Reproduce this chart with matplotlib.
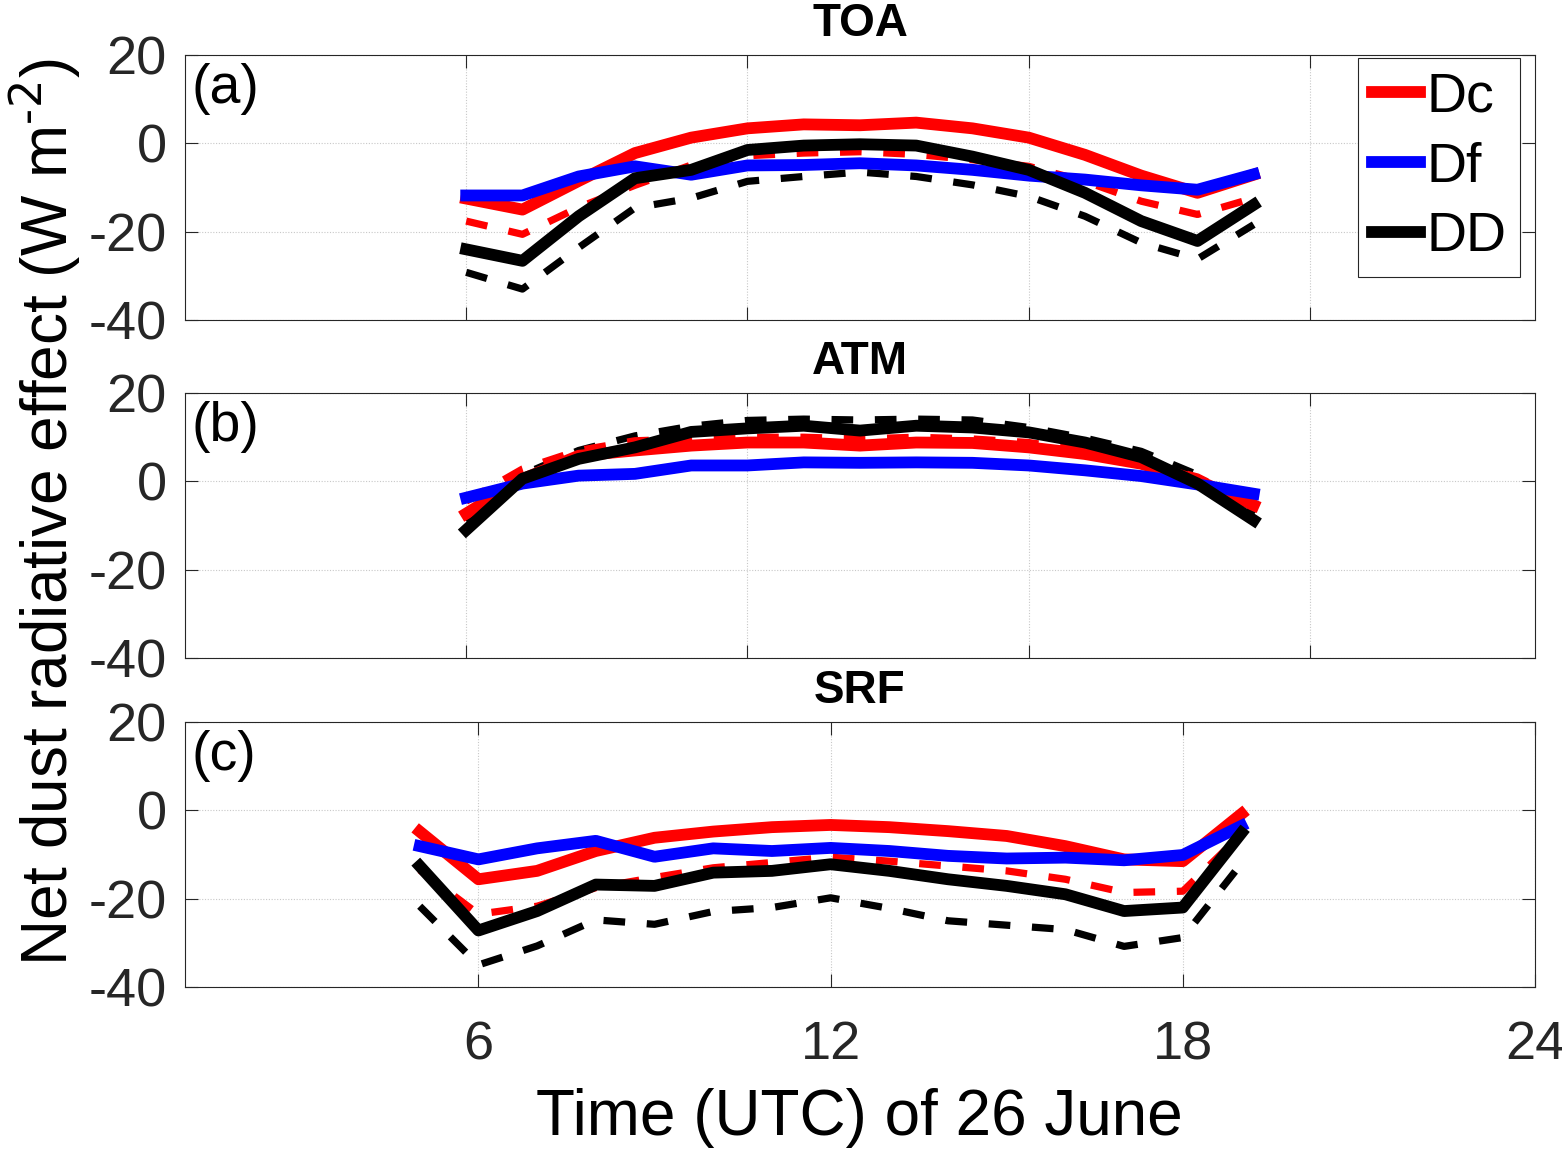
import matplotlib
matplotlib.use('Agg')
import matplotlib.pyplot as plt

plt.rcParams['font.family'] = ['Liberation Sans', 'DejaVu Sans']
plt.rcParams['axes.unicode_minus'] = False

# hours (UTC) of 26 June
hours = list(range(5, 20))

# TOA
dc_toa = [-12.5, -15.0, -8.5, -2.2, 1.3, 3.4, 4.3, 4.1, 4.7, 3.4, 1.3, -2.6, -7.3, -11.2, -7.1]
df_toa = [-11.8, -11.8, -7.5, -5.2, -7.1, -5.0, -4.9, -4.5, -5.0, -6.0, -7.3, -8.2, -9.5, -10.5, -7.0]
dd_toa = [-24.0, -26.6, -16.5, -7.9, -6.0, -1.5, -0.5, -0.2, -0.5, -3.0, -6.0, -11.2, -17.6, -22.1, -13.9]
dc_toa_dash = [-17.6, -20.6, -14.5, -9.5, -4.9, -2.8, -2.2, -1.9, -2.5, -3.7, -5.2, -8.6, -13.1, -16.1, -12.4]
dd_toa_dash = [-29.2, -33.0, -23.6, -14.6, -12.4, -8.6, -7.5, -6.5, -7.5, -9.4, -12.0, -16.5, -22.5, -26.2, -18.4]

# ATM
dc_atm = [-7.3, 0.5, 5.8, 7.0, 8.1, 8.8, 8.8, 8.1, 8.8, 8.7, 7.7, 6.2, 4.0, 0.2, -5.4]
df_atm = [-3.7, -0.5, 1.3, 1.7, 3.6, 3.6, 4.3, 4.2, 4.3, 4.2, 3.6, 2.5, 1.2, -0.7, -2.8]
dd_atm = [-11.0, 0.6, 5.1, 7.7, 11.2, 12.0, 12.6, 11.5, 12.6, 12.2, 11.1, 8.8, 5.5, -0.5, -8.8]
dc_atm_dash = [-4.5, 2.8, 7.0, 9.2, 9.6, 10.0, 10.0, 9.6, 10.0, 9.6, 8.8, 7.0, 4.3, 1.0, -5.4]
dd_atm_dash = [-9.0, 1.5, 7.0, 10.3, 12.5, 13.8, 14.1, 13.9, 14.1, 13.9, 12.2, 9.8, 6.8, 1.5, -7.6]

# SRF
dc_srf = [-4.8, -15.6, -13.7, -9.2, -6.2, -4.8, -3.8, -3.3, -3.8, -4.7, -5.8, -8.1, -11.1, -11.5, -0.8]
df_srf = [-8.1, -11.1, -8.6, -6.9, -10.5, -8.6, -9.2, -8.5, -9.2, -10.3, -10.9, -10.7, -11.3, -10.1, -3.5]
dd_srf = [-12.6, -27.2, -22.8, -16.8, -17.1, -14.1, -13.7, -12.2, -13.7, -15.6, -17.1, -19.0, -22.8, -22.0, -5.1]
dc_srf_dash = [-13.5, -23.5, -21.7, -17.5, -15.2, -13.0, -11.8, -10.6, -11.5, -12.6, -13.7, -15.6, -18.6, -18.3, -5.4]
dd_srf_dash = [-21.7, -35.0, -30.7, -24.8, -25.8, -22.9, -22.0, -19.8, -22.2, -25.0, -26.0, -27.0, -30.8, -28.8, -12.0]

titles = ['TOA', 'ATM', 'SRF']
panel_labels = ['(a)', '(b)', '(c)']
yticks = [-40, -20, 0, 20]

LW = 8.5       # solid lines
LW_D = 5.2     # dashed lines are drawn thinner
DASH = (3.0, 3.0)
TXT = '#262626'

fig = plt.figure(figsize=(15.62, 11.54), dpi=100)
left, width, height = 0.1184, 0.8643, 0.2296
bottoms = [0.7227, 0.4298, 0.1447]

panels = [
    (dc_toa, df_toa, dd_toa, dc_toa_dash, dd_toa_dash),
    (dc_atm, df_atm, dd_atm, dc_atm_dash, dd_atm_dash),
    (dc_srf, df_srf, dd_srf, dc_srf_dash, dd_srf_dash),
]

axes = []
for i, (dc, df, dd, dc_d, dd_d) in enumerate(panels):
    ax = fig.add_axes([left, bottoms[i], width, height])
    ax.plot(hours, dd_d, color='k', lw=LW_D, dashes=DASH)
    ax.plot(hours, dc_d, color='r', lw=LW_D, dashes=DASH)
    ax.plot(hours, dc, color='r', lw=LW, label='Dc')
    ax.plot(hours, df, color='b', lw=LW, label='Df')
    ax.plot(hours, dd, color='k', lw=LW, label='DD')

    ax.set_ylim(-40, 20)
    ax.set_yticks(yticks)
    if i < 2:
        ax.set_xlim(0, 24)
        ax.set_xticks([5, 10, 15, 20])
        ax.tick_params(axis='x', labelbottom=False)
    else:
        ax.set_xlim(1, 24)
        ax.set_xticks([6, 12, 18, 24])

    ax.grid(True, color='#c8c8c8', lw=0.8, ls=(0, (1, 1.5)))
    ax.set_axisbelow(True)
    ax.tick_params(direction='in', length=9.7, width=0.8, top=True, right=True,
                   labelsize=39, colors=TXT)
    ax.tick_params(axis='y', pad=13)
    ax.tick_params(axis='x', pad=24)
    for s in ax.spines.values():
        s.set_color(TXT)
        s.set_linewidth(0.8)

    ax.set_title(titles[i], fontsize=33, fontweight='bold', pad=14)
    ax.text(0.005, 0.97, panel_labels[i], transform=ax.transAxes,
            fontsize=40, va='top', ha='left')
    axes.append(ax)

leg = axes[0].legend(loc='upper right', bbox_to_anchor=(0.989, 0.989), fontsize=40,
                     handlelength=0.85, handletextpad=0.12, labelspacing=0.32,
                     borderpad=0.25, borderaxespad=0, fancybox=False,
                     framealpha=1, edgecolor=TXT)
leg.get_frame().set_linewidth(0.8)

fig.text(0.029, 0.556, 'Net dust radiative effect (W m$^{\\text{-2}}$)', rotation=90,
         fontsize=46, ha='center', va='center')
fig.text(0.55, 0.031, 'Time (UTC) of 26 June', fontsize=46, ha='center', va='center')

fig.savefig('out.png', dpi=100)
